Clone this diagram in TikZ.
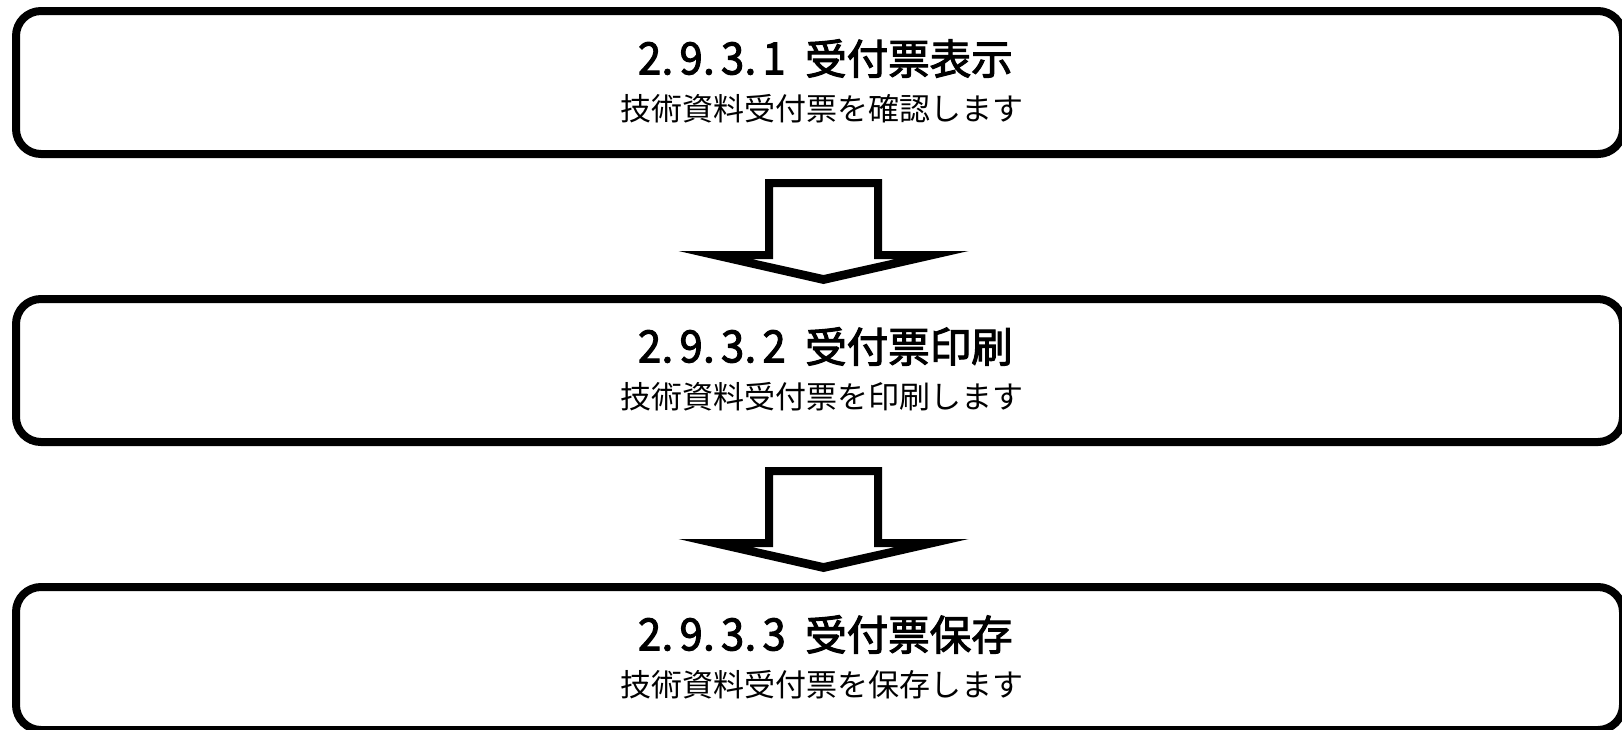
\documentclass[tikz,border=0pt]{standalone}
\usepackage{fontspec}
\usepackage{graphicx}
\newfontfamily\jp{Noto Sans CJK JP}
\newfontfamily\jpt[FakeBold=2.5]{Noto Sans CJK JP}
\usetikzlibrary{calc}
\newcommand\hwd[1]{\makebox[0.5em][c]{\scalebox{1}[1.07]{#1}}}
\newcommand\hwp{\makebox[0.5em][l]{\hspace{0.04em}.}}
\newcommand\secnum[4]{\hwd{#1}\hwp\hwd{#2}\hwp\hwd{#3}\hwp\hwd{#4}\hspace{0.5em}}
\tikzset{
  stepframe/.style={draw=black, line width=8pt, rounded corners=25pt, fill=white,
    minimum width=1607pt, minimum height=143pt, inner sep=0pt},
  titletext/.style={font=\jpt\fontsize{41.5pt}{45pt}\selectfont, inner sep=0pt},
  subtext/.style={font=\jp\fontsize{31pt}{34pt}\selectfont, inner sep=0pt},
  pics/blockarrow/.style={code={
    \fill[black, even odd rule]
      (-58.5,0) -- (58.5,0) -- (58.5,72) -- (145,72) -- (0,105) -- (-145,72) -- (-58.5,72) -- cycle
      (-50.5,8) -- (50.5,8) -- (50.5,80) -- (72,80) -- (0,96) -- (-72,80) -- (-50.5,80) -- cycle;
  }}
}
\begin{document}
\begin{tikzpicture}[x=1pt, y=-1pt]
\useasboundingbox (0,0) rectangle (1622,729);
\fill[white] (0,0) rectangle (1622,729);

\node[stepframe] (b1) at (819.5,82.5) {};
\node[stepframe] (b2) at (819.5,370.5) {};
\node[stepframe] (b3) at (819.5,658.5) {};

\node[titletext] (t1) at ($(b1.center)+(6.5,-24)$) {\secnum{2}{9}{3}{1}受付票表示};
\node[subtext]   (s1) at ($(b1.center)+(2,26)$) {技術資料受付票を確認します};
\node[titletext] (t2) at ($(b2.center)+(6.5,-24)$) {\secnum{2}{9}{3}{2}受付票印刷};
\node[subtext]   (s2) at ($(b2.center)+(2,26)$) {技術資料受付票を印刷します};
\node[titletext] (t3) at ($(b3.center)+(6.5,-24)$) {\secnum{2}{9}{3}{3}受付票保存};
\node[subtext]   (s3) at ($(b3.center)+(2,26)$) {技術資料受付票を保存します};

\coordinate (a1) at ($(b1.south)+(4,21)$);
\coordinate (a2) at ($(b2.south)+(4,21)$);
\pic at (a1) {blockarrow};
\pic at (a2) {blockarrow};
\end{tikzpicture}
\end{document}
